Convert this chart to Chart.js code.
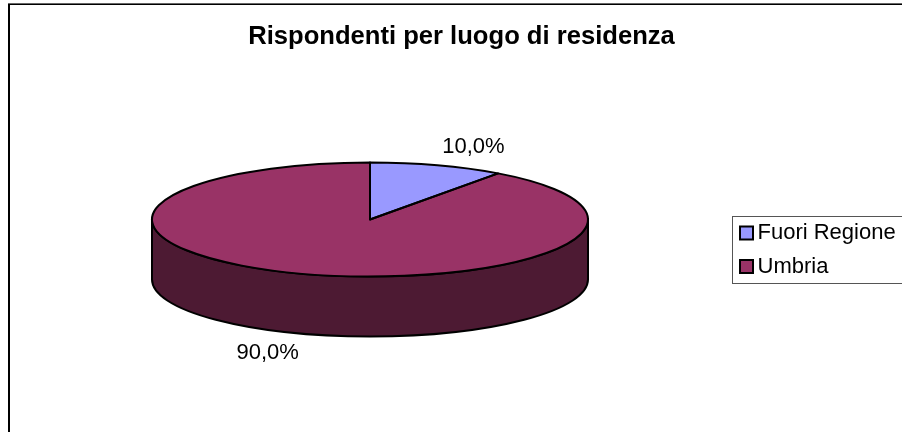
<!DOCTYPE html>
<html><head><meta charset="utf-8">
<style>html,body{margin:0;padding:0;background:#fff}#w{width:902px;height:432px}</style>
<script src="https://cdn.jsdelivr.net/npm/chart.js@4"></script>
</head><body><div id="w"><canvas id="c" width="902" height="432"></canvas></div>
<script>
const categories = ["Fuori Regione", "Umbria"];
const values = [10, 90];
const valueLabels = ["10,0%", "90,0%"];
const chartTitle = "Rispondenti per luogo di residenza";
const colors = ["#9999FF", "#993366"];
const sideColors = ["#4D4D80", "#4D1A33"];

const FONT = '"Liberation Sans", Arial, sans-serif';
const PIE = {cx: 370, cy: 219.5, rx: 218, ry: 57, depth: 60};
const LABEL_OFFSET = [[36, -18], [-35, 19]];
const LEGEND = {boxLeft: 732, boxTop: 216, boxBottom: 283, left: 734, top: 210.5, right: 902, swatchX: 740, swatchSize: 13, font: 22, pad: 11.5};

function pieTransform(ctx, arc, dy) {
  ctx.translate(PIE.cx, PIE.cy + (dy || 0));
  ctx.scale(PIE.rx / arc.outerRadius, PIE.ry / arc.outerRadius);
  ctx.translate(-arc.x, -arc.y);
}
function sideRange(arc) {
  const s = Math.max(arc.startAngle, 0), e = Math.min(arc.endAngle, Math.PI);
  return e > s ? [s, e] : null;
}
function sidePath(ctx, arc, r) {
  ctx.beginPath();
  ctx.save(); pieTransform(ctx, arc, 0); ctx.arc(arc.x, arc.y, arc.outerRadius, r[0], r[1]); ctx.restore();
  ctx.save(); pieTransform(ctx, arc, PIE.depth); ctx.arc(arc.x, arc.y, arc.outerRadius, r[1], r[0], true); ctx.restore();
  ctx.closePath();
}

const pie3d = {
  id: "pie3d",
  afterLayout(chart) {
    const l = chart.legend;
    l.left = LEGEND.left; l.right = LEGEND.right; l.top = LEGEND.top; l.bottom = chart.height;
    const t = chart.titleBlock;
    t.left += 10.5; t.right += 10.5;
  },
  beforeDraw(chart) {
    const ctx = chart.ctx;
    ctx.save();
    ctx.fillStyle = "#fff"; ctx.fillRect(0, 0, chart.width, chart.height);
    ctx.fillStyle = "#000";
    ctx.fillRect(8, 4, 2, chart.height - 4);
    ctx.fillRect(8, 4, chart.width - 8, 1);
    ctx.fillStyle = "#666";
    ctx.fillRect(8, 3, chart.width - 8, 1);
    ctx.strokeStyle = "#555"; ctx.lineWidth = 1;
    ctx.strokeRect(LEGEND.boxLeft + .5, LEGEND.boxTop + .5, LEGEND.right - LEGEND.boxLeft + 5, LEGEND.boxBottom - LEGEND.boxTop);
    ctx.restore();
  },
  beforeDatasetsDraw(chart) {
    const ctx = chart.ctx, arcs = chart.getDatasetMeta(0).data;
    ctx.save();
    ctx.lineJoin = "round"; ctx.strokeStyle = "#000"; ctx.lineWidth = 2;
    arcs.forEach((arc, i) => {
      const r = sideRange(arc);
      if (!r) return;
      sidePath(ctx, arc, r);
      ctx.fillStyle = sideColors[i]; ctx.fill(); ctx.stroke();
    });
    ctx.restore();
    ctx.save();
    pieTransform(ctx, arcs[0], 0);
  },
  afterDatasetsDraw(chart) {
    const ctx = chart.ctx, arcs = chart.getDatasetMeta(0).data;
    ctx.restore();
    ctx.save();
    ctx.lineJoin = "round"; ctx.strokeStyle = "#000"; ctx.lineWidth = 2;
    arcs.forEach(arc => {
      ctx.save();
      pieTransform(ctx, arc, 0);
      ctx.beginPath();
      ctx.moveTo(arc.x, arc.y);
      ctx.arc(arc.x, arc.y, arc.outerRadius, arc.startAngle, arc.endAngle);
      ctx.closePath();
      ctx.restore();
      ctx.stroke();
    });
    ctx.fillStyle = "#000"; ctx.font = "22px " + FONT;
    ctx.textAlign = "center"; ctx.textBaseline = "middle";
    arcs.forEach((arc, i) => {
      const mid = (arc.startAngle + arc.endAngle) / 2;
      const x = PIE.cx + Math.cos(mid) * PIE.rx + LABEL_OFFSET[i][0];
      const low = Math.sin(mid) > 0;
      const y = PIE.cy + Math.sin(mid) * PIE.ry + (low ? PIE.depth : 0) + LABEL_OFFSET[i][1];
      ctx.fillText(valueLabels[i], x, y);
    });
    ctx.restore();
  },
  afterDraw(chart) {
    const ctx = chart.ctx, l = LEGEND;
    ctx.save();
    ctx.strokeStyle = "#000"; ctx.lineWidth = 2;
    categories.forEach((c, i) => {
      const y = l.top + l.pad + i * (l.font + l.pad) + (l.font - l.swatchSize) / 2;
      ctx.fillStyle = colors[i];
      ctx.fillRect(l.swatchX, y, l.swatchSize, l.swatchSize);
      ctx.strokeRect(l.swatchX, y, l.swatchSize, l.swatchSize);
    });
    ctx.restore();
  }
};

new Chart(document.getElementById("c"), {
  type: "pie",
  data: {labels: categories, datasets: [{data: values, backgroundColor: colors, borderWidth: 0, radius: PIE.rx, clip: false}]},
  plugins: [pie3d],
  options: {
    responsive: false, animation: false, devicePixelRatio: 1,
    layout: {padding: 0},
    plugins: {
      tooltip: {enabled: false},
      title: {display: true, text: chartTitle, color: "#000", font: {family: FONT, size: 25.6, weight: "bold"}, padding: {top: 22, bottom: 10}},
      legend: {
        display: true, position: "right", align: "start",
        labels: {
          color: "#000", boxWidth: 1, boxHeight: 13, padding: LEGEND.pad,
          font: {family: FONT, size: LEGEND.font},
          generateLabels: () => categories.map((c, i) => ({text: c, fillStyle: "transparent", strokeStyle: "transparent", lineWidth: 0, index: i}))
        }
      }
    }
  }
});
</script></body></html>
